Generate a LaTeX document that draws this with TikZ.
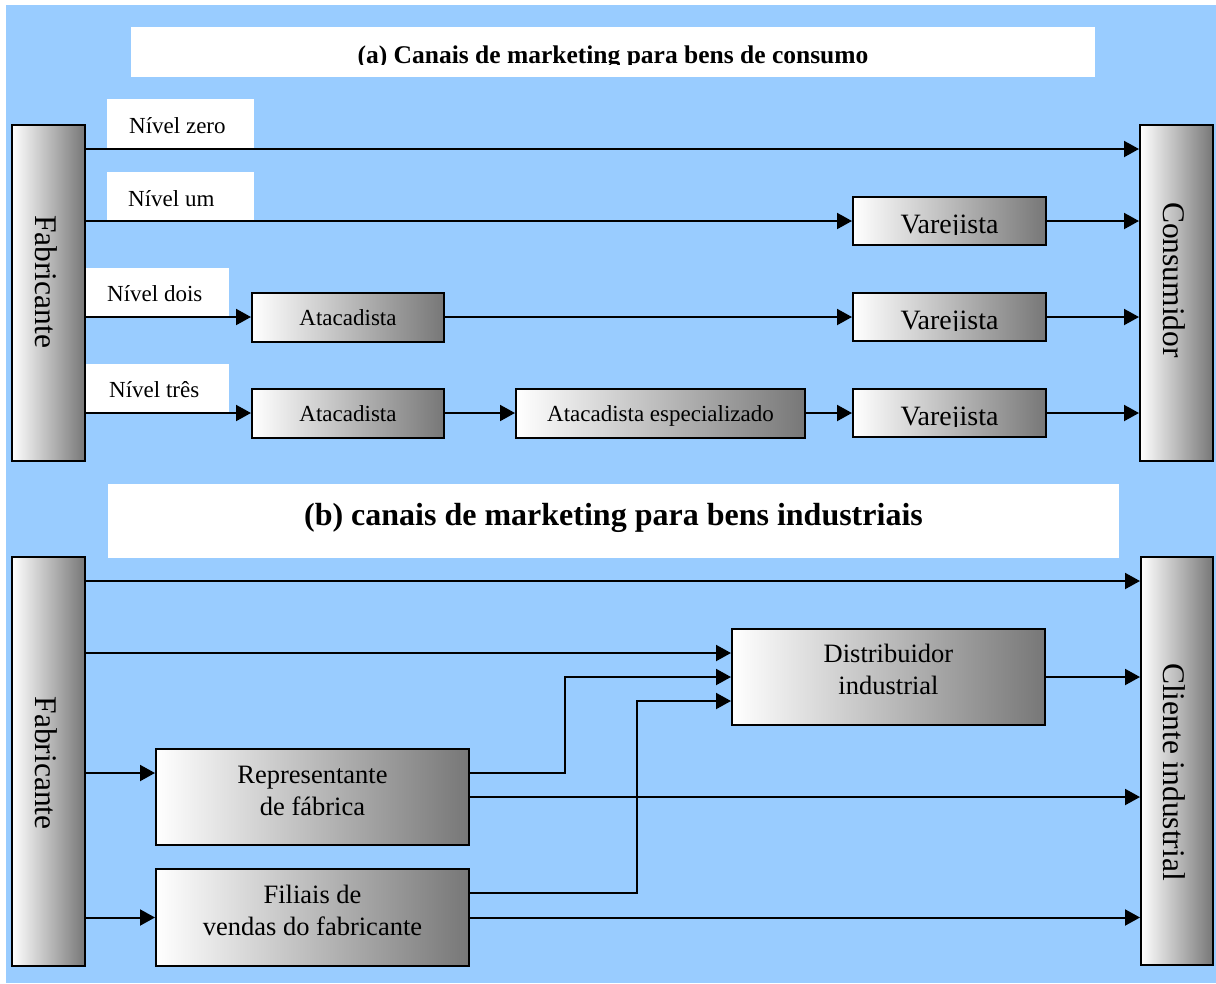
\documentclass[tikz,border=0pt]{standalone}
\usepackage{fontspec}
\setmainfont{Liberation Serif}
\usetikzlibrary{arrows.meta}
\definecolor{bgblue}{RGB}{153,204,255}
\definecolor{shadegray}{RGB}{119,119,119}

\tikzset{
  box/.style={draw=black, line width=2pt, left color=white, right color=shadegray, inner sep=0pt},
  whitebox/.style={fill=white, inner sep=0pt},
  txt/.style={inner sep=0pt, anchor=base},
  small/.style={font=\fontsize{23}{27}\selectfont},
  mid/.style={font=\fontsize{26.5}{32}\selectfont},
  big/.style={font=\fontsize{28}{33}\selectfont},
  side/.style={font=\fontsize{31.5}{36}\selectfont, rotate=-90, inner sep=0pt, anchor=base},
  conn/.style={line width=2pt, -{Triangle[length=15pt,width=16pt]}},
}

\begin{document}
\begin{tikzpicture}[x=1pt,y=-1pt]
\useasboundingbox (0,0) rectangle (1216,983);
\fill[bgblue] (6,5) rectangle (1216,983);

% ---------- (a) consumer goods ----------
\node[whitebox, minimum width=964pt, minimum height=50pt] (TitA) at (613,52) {};
\begin{scope}
  \clip (TitA.north west) rectangle (TitA.east |- 0,64.5);
  \node[txt, font=\fontsize{25.5}{30}\selectfont\bfseries] (TitAt) at (613,63.5) {(a) Canais de marketing para bens de consumo};
\end{scope}

% level labels
\node[whitebox, minimum width=147pt, minimum height=49pt] (L0) at (180.5,123.5) {};
\node[whitebox, minimum width=147pt, minimum height=48pt] (L1) at (180.5,196) {};
\node[whitebox, minimum width=144pt, minimum height=49pt] (L2) at (157,292.5) {};
\node[whitebox, minimum width=144pt, minimum height=49pt] (L3) at (157,388.5) {};
\node[txt, small, anchor=base west] (L0t) at (129,133) {Nível zero};
\node[txt, small, anchor=base west] (L1t) at (128,206) {Nível um};
\node[txt, small, anchor=base west] (L2t) at (107,301) {Nível dois};
\node[txt, small, anchor=base west] (L3t) at (109,397) {Nível três};

% end points
\node[box, minimum width=73pt, minimum height=336pt] (FabA) at (48.5,293) {};
\node[side] (FabAt) at (35,281.5) {Fabricante};
\node[box, minimum width=73pt, minimum height=336pt] (ConsA) at (1176.5,293) {};
\node[side] (ConsAt) at (1163,280) {Consumidor};

% intermediaries
\node[box, minimum width=192pt, minimum height=49pt] (Ata1) at (348,317) {};
\node[txt, small] (Ata1t) at (348,325) {Atacadista};
\node[box, minimum width=192pt, minimum height=49pt] (Ata2) at (348,413) {};
\node[txt, small] (Ata2t) at (348,421.5) {Atacadista};
\node[box, minimum width=289pt, minimum height=49pt] (Esp) at (660.5,413) {};
\node[txt, small] (Espt) at (660.5,421.5) {Atacadista especializado};

\node[box, minimum width=193pt, minimum height=48pt] (V1) at (949.5,221) {};
\node[box, minimum width=193pt, minimum height=48pt] (V2) at (949.5,317) {};
\node[box, minimum width=193pt, minimum height=48pt] (V3) at (949.5,413) {};
\begin{scope}
  \clip (V1.north west) rectangle (V1.east |- 0,234);
  \node[txt, big] (V1t) at (949.5,233) {Varejista};
\end{scope}
\begin{scope}
  \clip (V2.north west) rectangle (V2.east |- 0,330);
  \node[txt, big] (V2t) at (949.5,329) {Varejista};
\end{scope}
\begin{scope}
  \clip (V3.north west) rectangle (V3.east |- 0,426);
  \node[txt, big] (V3t) at (949.5,425) {Varejista};
\end{scope}

% channels
\draw[conn] (FabA.east |- 0,149) -- (ConsA.west |- 0,149);
\draw[conn] (FabA.east |- V1.west) -- (V1.west);
\draw[conn] (V1.east) -- (ConsA.west |- V1.east);
\draw[conn] (FabA.east |- Ata1.west) -- (Ata1.west);
\draw[conn] (Ata1.east) -- (V2.west);
\draw[conn] (V2.east) -- (ConsA.west |- V2.east);
\draw[conn] (FabA.east |- Ata2.west) -- (Ata2.west);
\draw[conn] (Ata2.east) -- (Esp.west);
\draw[conn] (Esp.east) -- (V3.west);
\draw[conn] (V3.east) -- (ConsA.west |- V3.east);

% ---------- (b) industrial goods ----------
\node[whitebox, minimum width=1011pt, minimum height=74pt] (TitB) at (613.5,521) {};
\node[txt, font=\fontsize{32}{38}\selectfont\bfseries] (TitBt) at (613.5,525) {(b) canais de marketing para bens industriais};

\node[box, minimum width=73pt, minimum height=409pt] (FabB) at (48.5,761.5) {};
\node[side] (FabBt) at (35,763) {Fabricante};
\node[box, minimum width=72pt, minimum height=408pt] (Cli) at (1177,761) {};
\node[side] (Clit) at (1163,772) {Cliente industrial};

% multi-line labels: the base anchor sits on the last line
\node[box, minimum width=313pt, minimum height=96pt] (Dist) at (888.5,677) {};
\node[txt, mid, align=center] (Distt) at (888.5,694) {Distribuidor\\industrial};
\node[box, minimum width=313pt, minimum height=96pt] (Rep) at (312.5,797) {};
\node[txt, mid, align=center] (Rept) at (312.5,815) {Representante\\de fábrica};
\node[box, minimum width=313pt, minimum height=97pt] (Fil) at (312.5,917.5) {};
\node[txt, mid, align=center] (Filt) at (312.5,935) {Filiais de\\vendas do fabricante};

\coordinate (jogA) at (565,677);
\coordinate (jogB) at (637,701);

\draw[conn] (FabB.east |- 0,581) -- (Cli.west |- 0,581);
\draw[conn] (FabB.east |- 0,653) -- (Dist.west |- 0,653);
\draw[conn] (FabB.east |- 0,773) -- (Rep.west |- 0,773);
\draw[conn] (FabB.east |- Fil.west) -- (Fil.west);
\draw[conn] (Rep.east |- 0,773) -| (jogA) -- (Dist.west |- jogA);
\draw[conn] (Fil.east |- 0,893) -| (jogB) -- (Dist.west |- jogB);
\draw[conn] (Dist.east) -- (Cli.west |- Dist.east);
\draw[conn] (Rep.east) -- (Cli.west |- Rep.east);
\draw[conn] (Fil.east) -- (Cli.west |- Fil.east);
\end{tikzpicture}
\end{document}
